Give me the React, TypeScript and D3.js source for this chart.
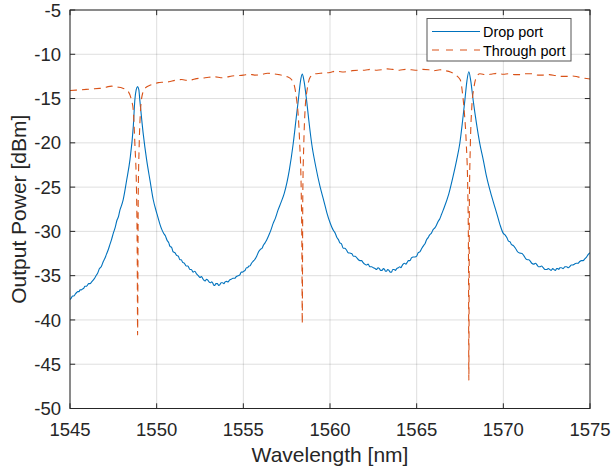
import React from "react";
import * as d3 from "d3";

// Drop port: [wavelength nm, power dBm]
const dropPort: [number, number][] = [
  [1545.00, -37.7], [1545.08, -37.5], [1545.15, -37.3], [1545.22, -37.3], [1545.30, -37.1],
  [1545.38, -36.9], [1545.45, -36.8], [1545.52, -36.8], [1545.58, -36.6], [1545.65, -36.6],
  [1545.72, -36.5], [1545.80, -36.4], [1545.86, -36.2], [1545.93, -36.2], [1546.00, -36.1],
  [1546.08, -35.9], [1546.15, -35.9], [1546.25, -35.7], [1546.34, -35.5], [1546.42, -35.3],
  [1546.50, -35.0], [1546.60, -34.7], [1546.70, -34.2], [1546.80, -34.0], [1546.92, -33.4],
  [1547.00, -33.1], [1547.10, -32.6], [1547.20, -32.1], [1547.30, -31.5], [1547.40, -30.9],
  [1547.50, -30.2], [1547.60, -29.6], [1547.70, -28.8], [1547.80, -28.3], [1547.88, -27.6],
  [1547.97, -27.1], [1548.07, -26.4], [1548.27, -24.2], [1548.46, -21.9], [1548.65, -18.2],
  [1548.74, -15.2], [1548.82, -14.0], [1548.90, -13.65], [1548.97, -14.0], [1549.03, -15.2],
  [1549.22, -18.9], [1549.42, -21.9], [1549.62, -24.3], [1549.80, -26.4], [1550.00, -27.9],
  [1550.19, -29.2], [1550.30, -29.8], [1550.40, -30.2], [1550.50, -30.5], [1550.60, -31.0],
  [1550.70, -31.3], [1550.77, -31.7], [1550.86, -31.8], [1550.95, -32.3], [1551.05, -32.4],
  [1551.15, -32.7], [1551.25, -32.8], [1551.34, -33.2], [1551.42, -33.2], [1551.50, -33.5],
  [1551.60, -33.6], [1551.70, -33.9], [1551.80, -33.9], [1551.92, -34.3], [1552.00, -34.3],
  [1552.10, -34.6], [1552.20, -34.5], [1552.30, -34.8], [1552.40, -35.0], [1552.50, -35.2],
  [1552.58, -35.1], [1552.65, -35.3], [1552.72, -35.5], [1552.80, -35.6], [1552.88, -35.4],
  [1552.95, -35.5], [1553.02, -35.7], [1553.10, -35.8], [1553.18, -35.7], [1553.25, -35.9],
  [1553.30, -36.1], [1553.35, -36.1], [1553.42, -35.9], [1553.50, -35.9], [1553.58, -36.1],
  [1553.65, -36.0], [1553.72, -35.8], [1553.80, -35.8], [1553.88, -35.9], [1553.95, -35.7],
  [1554.04, -35.65], [1554.12, -35.7], [1554.20, -35.5], [1554.30, -35.4], [1554.40, -35.3],
  [1554.50, -35.3], [1554.60, -35.1], [1554.70, -35.0], [1554.80, -34.9], [1554.88, -34.6],
  [1554.95, -34.6], [1555.02, -34.5], [1555.10, -34.4], [1555.18, -34.1], [1555.25, -34.1],
  [1555.32, -33.9], [1555.38, -33.9], [1555.47, -33.6], [1555.55, -33.4], [1555.65, -33.2],
  [1555.77, -32.8], [1555.88, -32.3], [1556.00, -32.0], [1556.08, -31.9], [1556.15, -31.6],
  [1556.25, -31.3], [1556.34, -31.0], [1556.50, -30.3], [1556.60, -29.8], [1556.72, -29.1],
  [1556.85, -28.5], [1557.00, -27.6], [1557.18, -26.7], [1557.36, -25.7], [1557.65, -23.1],
  [1557.88, -20.05], [1558.05, -17.2], [1558.17, -15.2], [1558.30, -13.0], [1558.40, -12.24],
  [1558.50, -13.0], [1558.65, -15.2], [1558.78, -17.5], [1558.94, -20.05], [1559.18, -22.7],
  [1559.42, -24.9], [1559.65, -26.6], [1559.82, -27.9], [1560.00, -29.0], [1560.10, -29.5],
  [1560.20, -29.9], [1560.30, -30.2], [1560.40, -30.7], [1560.48, -30.9], [1560.57, -31.3],
  [1560.66, -31.4], [1560.76, -31.9], [1560.85, -31.9], [1560.95, -32.1], [1561.05, -32.4],
  [1561.15, -32.45], [1561.25, -32.5], [1561.35, -32.8], [1561.45, -32.8], [1561.55, -33.0],
  [1561.64, -33.2], [1561.73, -33.3], [1561.82, -33.3], [1561.90, -33.5], [1562.00, -33.7],
  [1562.10, -33.8], [1562.20, -33.7], [1562.30, -34.0], [1562.40, -34.0], [1562.50, -34.1],
  [1562.60, -34.2], [1562.69, -34.3], [1562.77, -34.1], [1562.85, -34.2], [1562.92, -34.4],
  [1563.00, -34.4], [1563.08, -34.2], [1563.15, -34.3], [1563.20, -34.5], [1563.26, -34.5],
  [1563.33, -34.3], [1563.40, -34.4], [1563.48, -34.6], [1563.55, -34.6], [1563.62, -34.3],
  [1563.70, -34.3], [1563.77, -34.4], [1563.85, -34.2], [1563.94, -34.1], [1564.03, -34.0],
  [1564.09, -34.1], [1564.15, -33.9], [1564.22, -33.7], [1564.30, -33.6], [1564.38, -33.7],
  [1564.45, -33.5], [1564.53, -33.3], [1564.61, -33.3], [1564.70, -33.0], [1564.80, -32.9],
  [1564.90, -32.9], [1565.00, -32.8], [1565.09, -32.4], [1565.18, -32.3], [1565.30, -31.9],
  [1565.40, -31.6], [1565.48, -31.4], [1565.57, -30.95], [1565.66, -30.7], [1565.75, -30.4],
  [1565.85, -30.2], [1565.95, -29.8], [1566.05, -29.6], [1566.14, -29.3], [1566.23, -28.9],
  [1566.33, -28.6], [1566.43, -28.1], [1566.53, -27.6], [1566.85, -25.8], [1567.10, -23.8],
  [1567.30, -22.0], [1567.49, -20.05], [1567.65, -17.5], [1567.78, -15.2], [1567.90, -13.0],
  [1568.01, -11.98], [1568.12, -13.0], [1568.26, -15.2], [1568.45, -17.8], [1568.64, -20.05],
  [1568.85, -22.0], [1569.03, -23.8], [1569.32, -26.0], [1569.61, -27.9], [1569.80, -29.2],
  [1569.99, -30.2], [1570.10, -30.4], [1570.20, -30.7], [1570.30, -31.1], [1570.40, -31.2],
  [1570.47, -31.5], [1570.58, -31.6], [1570.70, -31.9], [1570.82, -32.3], [1570.95, -32.45],
  [1571.08, -32.5], [1571.20, -32.8], [1571.30, -33.1], [1571.40, -33.2], [1571.47, -33.2],
  [1571.53, -33.3], [1571.64, -33.6], [1571.75, -33.7], [1571.85, -33.6], [1571.95, -33.8],
  [1572.03, -34.0], [1572.11, -34.0], [1572.20, -33.9], [1572.30, -34.1], [1572.40, -34.3],
  [1572.50, -34.3], [1572.60, -34.2], [1572.68, -34.3], [1572.76, -34.4], [1572.85, -34.2],
  [1572.92, -34.3], [1573.00, -34.4], [1573.08, -34.2], [1573.15, -34.2], [1573.20, -34.3],
  [1573.26, -34.1], [1573.35, -34.1], [1573.45, -34.2], [1573.55, -34.0], [1573.65, -34.0],
  [1573.75, -34.1], [1573.84, -33.96], [1573.92, -33.8], [1574.00, -33.8], [1574.10, -33.7],
  [1574.20, -33.6], [1574.30, -33.6], [1574.41, -33.4], [1574.50, -33.3], [1574.60, -33.3],
  [1574.70, -33.1], [1574.80, -32.9], [1574.90, -32.6], [1575.00, -32.4],
];

// Through port: [wavelength nm, power dBm]
const throughPort: [number, number][] = [
  [1545.00, -14.1], [1545.35, -14.05], [1545.69, -14.0], [1546.05, -13.95], [1546.41, -13.9],
  [1546.70, -13.85], [1546.96, -13.8], [1547.20, -13.65], [1547.41, -13.6], [1547.71, -13.7],
  [1548.01, -13.8], [1548.23, -14.0], [1548.36, -14.2], [1548.55, -15.2], [1548.65, -16.3],
  [1548.74, -20.0], [1548.84, -25.7], [1548.88, -33.2], [1548.90, -41.7], [1548.935, -26.4],
  [1548.99, -20.4], [1549.07, -16.3], [1549.19, -14.4], [1549.35, -13.8], [1549.61, -13.5],
  [1549.85, -13.35], [1550.10, -13.2], [1550.40, -13.15], [1550.70, -13.1], [1551.05, -12.95],
  [1551.45, -12.85], [1551.75, -12.95], [1552.00, -12.9], [1552.30, -12.75], [1552.60, -12.7],
  [1553.00, -12.6], [1553.40, -12.55], [1553.70, -12.65], [1554.00, -12.6], [1554.35, -12.45],
  [1554.70, -12.4], [1555.00, -12.35], [1555.35, -12.25], [1555.65, -12.35], [1556.00, -12.3],
  [1556.40, -12.15], [1556.75, -12.2], [1557.05, -12.3], [1557.30, -12.4], [1557.55, -12.55],
  [1557.80, -12.9], [1557.95, -13.6], [1558.08, -15.2], [1558.17, -17.0], [1558.25, -20.0],
  [1558.34, -25.5], [1558.38, -32.5], [1558.40, -40.4], [1558.43, -26.0], [1558.49, -20.0],
  [1558.57, -16.0], [1558.69, -13.9], [1558.85, -12.6], [1559.15, -12.2], [1559.45, -12.15],
  [1559.70, -12.1], [1560.00, -12.05], [1560.35, -11.9], [1560.70, -12.0], [1561.00, -11.95],
  [1561.30, -11.85], [1561.60, -11.8], [1562.00, -11.8], [1562.35, -11.7], [1562.70, -11.8],
  [1563.00, -11.75], [1563.30, -11.65], [1563.60, -11.7], [1564.00, -11.8], [1564.35, -11.7],
  [1564.70, -11.75], [1565.00, -11.8], [1565.35, -11.7], [1565.70, -11.75], [1566.00, -11.85],
  [1566.35, -11.75], [1566.65, -11.85], [1566.95, -12.0], [1567.15, -12.2], [1567.35, -12.5],
  [1567.52, -12.9], [1567.65, -14.5], [1567.76, -16.8], [1567.86, -20.0], [1567.95, -25.5],
  [1567.99, -33.0], [1568.01, -46.8], [1568.04, -27.0], [1568.10, -20.0], [1568.18, -16.0],
  [1568.30, -13.8], [1568.50, -12.4], [1568.65, -12.2], [1569.00, -12.3], [1569.30, -12.25],
  [1569.65, -12.15], [1570.00, -12.25], [1570.30, -12.2], [1570.65, -12.3], [1571.00, -12.3],
  [1571.30, -12.2], [1571.65, -12.2], [1572.00, -12.35], [1572.30, -12.35], [1572.65, -12.3],
  [1573.00, -12.4], [1573.35, -12.5], [1573.70, -12.5], [1574.00, -12.45], [1574.30, -12.55],
  [1574.65, -12.7], [1575.00, -12.8],
];

const xTicks = [1545, 1550, 1555, 1560, 1565, 1570, 1575];
const yTicks = [-50, -45, -40, -35, -30, -25, -20, -15, -10, -5];
const seriesNames = ["Drop port", "Through port"];

const W = 612;
const H = 471;
const M = { left: 70, right: 590, top: 10, bottom: 408.5 };
const AX = "#262626";
const FONT = "'Liberation Sans', Arial, Helvetica, sans-serif";
const BLUE = "#0072BD";
const ORANGE = "#D95319";

export default function App() {
  const x = d3.scaleLinear().domain([1545, 1575]).range([M.left, M.right]);
  const y = d3.scaleLinear().domain([-50, -5]).range([M.bottom, M.top]);
  const line = d3
    .line<[number, number]>()
    .x((d) => x(d[0]))
    .y((d) => y(d[1]))
    .curve(d3.curveMonotoneX);
  const tick = 5.2;

  return (
    <svg
      width={W}
      height={H}
      style={{ position: "absolute", left: 0, top: 0, background: "#fff" }}
      fontFamily={FONT}
    >
      <rect x={0} y={0} width={W} height={H} fill="#fff" />
      <g stroke={AX} strokeOpacity={0.15} strokeWidth={1}>
        {xTicks.map((t) => (
          <line key={"gx" + t} x1={x(t)} x2={x(t)} y1={M.top} y2={M.bottom} />
        ))}
        {yTicks.map((t) => (
          <line key={"gy" + t} x1={M.left} x2={M.right} y1={y(t)} y2={y(t)} />
        ))}
      </g>
      <defs>
        <clipPath id="plot">
          <rect x={M.left} y={M.top} width={M.right - M.left} height={M.bottom - M.top} />
        </clipPath>
      </defs>
      <g clipPath="url(#plot)" fill="none">
        <path d={line(dropPort) || ""} stroke={BLUE} strokeWidth={1.1} />
        <path d={line(throughPort) || ""} stroke={ORANGE} strokeWidth={1.1} strokeDasharray="7,5" />
      </g>
      <rect
        x={M.left}
        y={M.top}
        width={M.right - M.left}
        height={M.bottom - M.top}
        fill="none"
        stroke={AX}
        strokeWidth={1}
      />
      <g stroke={AX} strokeWidth={1}>
        {xTicks.map((t) => (
          <g key={"tx" + t}>
            <line x1={x(t)} x2={x(t)} y1={M.bottom} y2={M.bottom - tick} />
            <line x1={x(t)} x2={x(t)} y1={M.top} y2={M.top + tick} />
          </g>
        ))}
        {yTicks.map((t) => (
          <g key={"ty" + t}>
            <line x1={M.left} x2={M.left + tick} y1={y(t)} y2={y(t)} />
            <line x1={M.right} x2={M.right - tick} y1={y(t)} y2={y(t)} />
          </g>
        ))}
      </g>
      <g fill={AX} fontSize={18.5}>
        {xTicks.map((t) => (
          <text key={"lx" + t} x={x(t)} y={436} textAnchor="middle">
            {t}
          </text>
        ))}
        {yTicks.map((t) => (
          <text key={"ly" + t} x={61} y={y(t) + 6.6} textAnchor="end">
            {t}
          </text>
        ))}
      </g>
      <text x={(M.left + M.right) / 2} y={462} textAnchor="middle" fontSize={21} fill={AX}>
        Wavelength [nm]
      </text>
      <text
        transform={`translate(26,${(M.top + M.bottom) / 2}) rotate(-90)`}
        textAnchor="middle"
        fontSize={21}
        fill={AX}
      >
        Output Power [dBm]
      </text>
      <g>
        <rect x={427} y={18.5} width={144} height={42.5} fill="#fff" stroke="#555" strokeWidth={1} />
        <line x1={432} x2={480} y1={31.5} y2={31.5} stroke={BLUE} strokeWidth={1.1} />
        <line x1={432} x2={480} y1={50} y2={50} stroke={ORANGE} strokeWidth={1.1} strokeDasharray="7,7" />
        <text x={483} y={37} fontSize={14.4} fill="#000">
          {seriesNames[0]}
        </text>
        <text x={483} y={55.5} fontSize={14.4} fill="#000">
          {seriesNames[1]}
        </text>
      </g>
    </svg>
  );
}
